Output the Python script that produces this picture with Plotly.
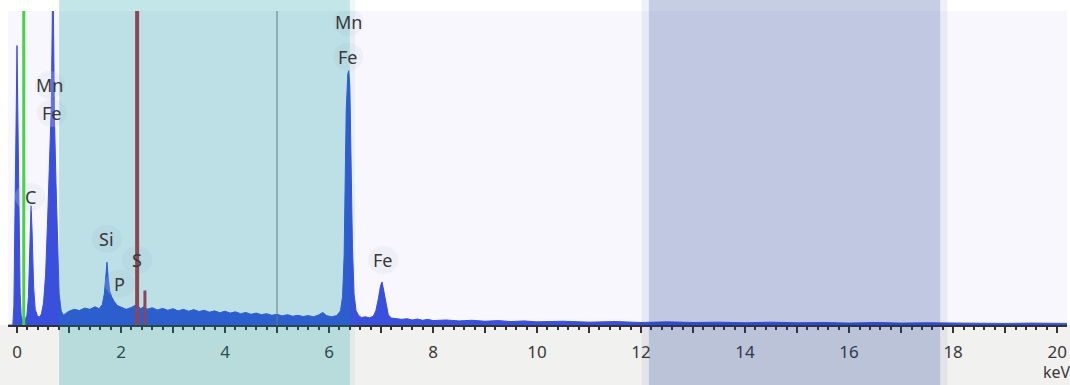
import plotly.graph_objects as go

# ---- EDS spectrum (energy in keV, counts in % of full scale) ----
energy_kev = [
    -0.17, -0.08, -0.06, -0.04, -0.02, 0.00, 0.02, 0.04, 0.06, 0.08, 0.11, 0.15,
    0.19, 0.22, 0.25, 0.27, 0.29, 0.32, 0.35, 0.39, 0.43, 0.47,
    0.51, 0.55, 0.59, 0.63, 0.66, 0.68, 0.69, 0.70, 0.72, 0.75, 0.78, 0.81, 0.85, 0.89, 0.93,
    1.0, 1.1, 1.2, 1.3, 1.4, 1.5, 1.58, 1.64, 1.68, 1.71, 1.73, 1.75, 1.78, 1.82, 1.87, 1.93,
    2.0, 2.1, 2.2, 2.3, 2.38, 2.45, 2.5, 2.6, 2.7, 2.8, 2.9, 3.0, 3.1, 3.2, 3.3, 3.4, 3.5,
    3.6, 3.7, 3.8, 3.9, 4.0, 4.1, 4.2, 4.3, 4.4, 4.5, 4.6, 4.7, 4.8, 4.9, 5.0, 5.1, 5.2,
    5.3, 5.4, 5.5, 5.6, 5.7, 5.8, 5.88, 5.95, 6.05, 6.15, 6.22, 6.26, 6.29, 6.31, 6.33,
    6.36, 6.38, 6.40, 6.42, 6.45, 6.48, 6.52, 6.57, 6.62, 6.70, 6.78, 6.85, 6.90, 6.95,
    6.99, 7.02, 7.05, 7.09, 7.14, 7.20, 7.3, 7.4, 7.5, 7.6, 7.7, 7.8, 7.9, 8.0, 8.25,
    8.5, 8.75, 9.0, 9.25, 9.5, 9.75, 10.0, 10.5, 11.0, 11.5, 12.0, 12.5, 13.0, 13.5,
    14.0, 14.5, 15.0, 15.5, 16.0, 16.5, 17.0, 17.5, 18.0, 18.5, 19.0, 19.5, 20.0, 20.2,
]
counts = [
    0, 0, 6, 40, 78, 89, 62, 30, 10, 3, 1.5, 1.5,
    3, 9, 26, 38, 30, 12, 5, 3, 2.5, 3.5,
    7, 16, 34, 55, 70, 100, 120, 100, 66, 45, 24, 10, 4.5, 3.2, 3.6,
    4.4, 5.0, 4.6, 5.4, 5.0, 5.8, 5.2, 6.5, 10, 16, 20, 16, 11, 9, 7.5, 6.2,
    5.6, 5.0, 5.6, 6.5, 5.2, 6.0, 5.0, 5.5, 4.8, 5.3, 4.7, 5.2, 4.5, 5.0, 4.4, 4.9, 4.3,
    4.7, 4.1, 4.5, 3.9, 4.4, 3.8, 4.2, 3.6, 4.0, 3.4, 3.8, 3.3, 3.6, 3.1, 3.4, 2.9, 3.3,
    2.8, 3.1, 2.7, 3.0, 2.6, 3.2, 4.0, 3.0, 2.6, 3.0, 4.5, 9, 22, 45, 68,
    80, 81, 76, 55, 25, 10, 4.5, 3, 2.4, 2.6, 2.3, 2.8, 4.5, 8.5,
    12.5, 13.7, 11, 6.5, 3.2, 2.2, 2.0, 1.8, 2.0, 1.6, 1.9, 1.5, 1.8, 1.4, 1.6,
    1.3, 1.5, 1.2, 1.4, 1.1, 1.3, 1.0, 1.2, 0.9, 1.1, 0.8, 1.0, 0.8, 0.9,
    0.7, 0.9, 0.7, 0.8, 0.6, 0.8, 0.6, 0.7, 0.6, 0.7, 0.5, 0.6, 0.5, 0.5,
]

# ---- peak identification labels ----
label_text = ["Mn", "Fe", "C", "Si", "P", "S", "Mn", "Fe", "Fe"]
label_kev = [0.63, 0.67, 0.25, 1.73, 1.98, 2.31, 6.37, 6.37, 7.04]
label_level = [76.4, 67.5, 40.8, 27.4, 13.1, 20.7, 96.5, 85.4, 20.7]

# ---- x axis ticks ----
tick_kev = list(range(0, 21))
tick_text = [str(v) if v % 2 == 0 else "" for v in tick_kev]

# ---- marker lines ----
green_marker_kev = 0.13
sulfur_ka_kev = 2.31
sulfur_kb_kev = 2.46
sulfur_kb_level = 11
cursor_kev = 5.0

# ---- highlighted energy windows ----
window_a = (0.81, 6.40)
window_b = (12.15, 17.75)

FONT = "Noto Sans"
BLUE = "#3a4fdc"
TEXT = "#383838"

fig = go.Figure()
fig.add_trace(go.Scatter(
    x=energy_kev, y=counts, mode="lines",
    line=dict(color=BLUE, width=1),
    fill="tozeroy", fillcolor=BLUE,
    hoverinfo="skip", showlegend=False,
))

shapes = []

# gray band under the axis
shapes.append(dict(type="rect", xref="paper", yref="paper",
                   x0=-0.05, x1=1.05, y0=-0.3, y1=0,
                   fillcolor="#f1f1ef", line=dict(width=0), layer="below"))

# soft halos behind peak labels
for xk, yl in zip(label_kev, label_level):
    shapes.append(dict(type="circle", xref="x", yref="y",
                       xsizemode="pixel", ysizemode="pixel",
                       xanchor=xk, yanchor=yl,
                       x0=-15, x1=15, y0=-14, y1=14,
                       fillcolor="rgba(215,215,230,0.25)",
                       line=dict(width=0), layer="above"))

# marker lines
shapes.append(dict(type="line", xref="x", yref="paper",
                   x0=cursor_kev, x1=cursor_kev, y0=0, y1=1,
                   line=dict(color="#777777", width=1), layer="above"))
shapes.append(dict(type="line", xref="x", yref="paper",
                   x0=green_marker_kev, x1=green_marker_kev, y0=0, y1=1,
                   line=dict(color="#44d444", width=3), layer="above"))
shapes.append(dict(type="line", xref="x", yref="paper",
                   x0=sulfur_ka_kev, x1=sulfur_ka_kev, y0=0, y1=1,
                   line=dict(color="#b8303f", width=4), layer="above"))
shapes.append(dict(type="line", xref="x", yref="y",
                   x0=sulfur_kb_kev, x1=sulfur_kb_kev, y0=0, y1=sulfur_kb_level,
                   line=dict(color="#b8303f", width=3), layer="above"))

# translucent energy windows spanning the full figure height
Y_LO, Y_HI = -0.2, 1.04
shapes.append(dict(type="rect", xref="x", yref="paper",
                   x0=window_a[0], x1=window_a[1], y0=Y_LO, y1=Y_HI,
                   fillcolor="rgba(0,149,157,0.235)", line=dict(width=0), layer="above"))
shapes.append(dict(type="rect", xref="x", yref="paper",
                   x0=window_a[1], x1=window_a[1] + 0.1, y0=Y_LO, y1=Y_HI,
                   fillcolor="rgba(0,149,157,0.07)", line=dict(width=0), layer="above"))
shapes.append(dict(type="rect", xref="x", yref="paper",
                   x0=window_b[0], x1=window_b[1], y0=Y_LO, y1=Y_HI,
                   fillcolor="rgba(27,59,147,0.25)", line=dict(width=0), layer="above"))
shapes.append(dict(type="rect", xref="x", yref="paper",
                   x0=window_b[0] - 0.14, x1=window_b[0], y0=Y_LO, y1=Y_HI,
                   fillcolor="rgba(27,59,147,0.07)", line=dict(width=0), layer="above"))
shapes.append(dict(type="rect", xref="x", yref="paper",
                   x0=window_b[1], x1=window_b[1] + 0.14, y0=Y_LO, y1=Y_HI,
                   fillcolor="rgba(27,59,147,0.07)", line=dict(width=0), layer="above"))

annotations = []
for txt, xk, yl in zip(label_text, label_kev, label_level):
    annotations.append(dict(x=xk, y=yl, xref="x", yref="y", text=txt,
                            showarrow=False, xanchor="center", yanchor="middle",
                            font=dict(family=FONT, size=18, color=TEXT)))
annotations.append(dict(x=20, y=-0.15, xref="x", yref="paper", text="keV",
                        showarrow=False, xanchor="center", yanchor="middle",
                        font=dict(family=FONT, size=16, color=TEXT)))

fig.update_layout(
    width=1070, height=385,
    margin=dict(l=8, r=3, t=11, b=60),
    paper_bgcolor="#ffffff",
    plot_bgcolor="#f7f7fd",
    shapes=shapes,
    annotations=annotations,
    showlegend=False,
    xaxis=dict(
        range=[-0.173, 20.19],
        tickmode="array", tickvals=tick_kev, ticktext=tick_text,
        ticks="outside", ticklen=6, tickwidth=1.5, tickcolor="#333333",
        minor=dict(ticks="outside", tick0=0, dtick=0.2, ticklen=3,
                   tickwidth=1.5, tickcolor="#333333"),
        showline=True, linecolor="#333333", linewidth=1.5,
        showgrid=False, zeroline=False,
        tickfont=dict(family=FONT, size=17, color=TEXT),
        ticklabelstandoff=5,
        fixedrange=True,
    ),
    yaxis=dict(range=[0, 100], visible=False, fixedrange=True),
)

fig.write_html("out.html")
